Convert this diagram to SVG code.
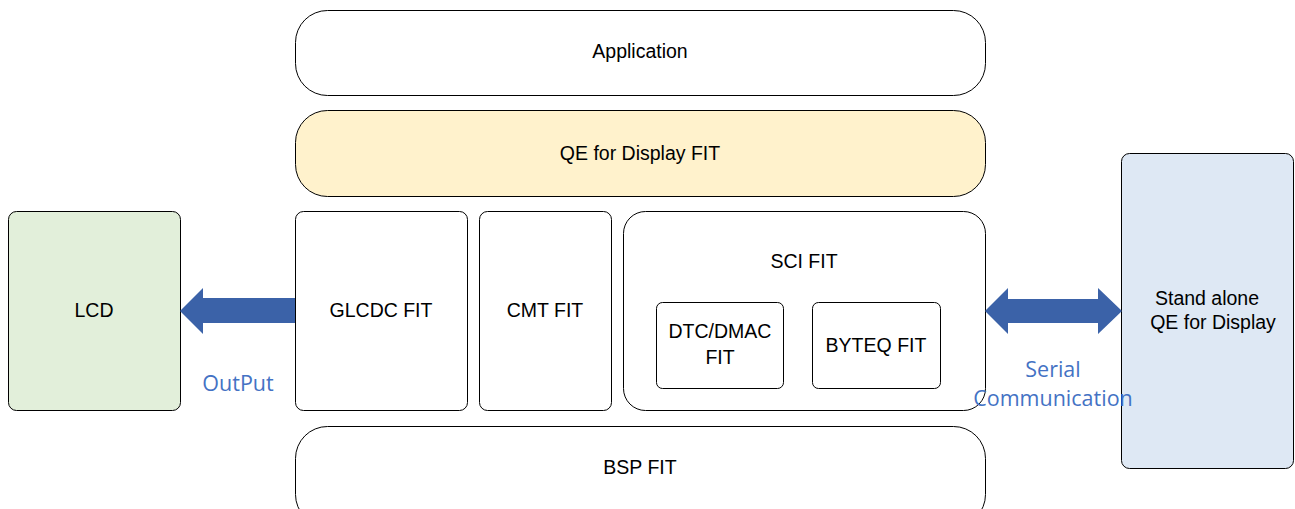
<svg xmlns="http://www.w3.org/2000/svg" width="1295" height="509" viewBox="0 0 1295 509">
<style>
.box{stroke:#000;stroke-width:1;fill:#fff}
.t{font-family:"Liberation Sans",Arial,sans-serif;font-size:19.5px;fill:#000;text-anchor:middle;dominant-baseline:central}
.lbl{font-family:"Open Sans","Noto Sans",sans-serif;font-size:21.5px;fill:#4472c4;text-anchor:middle;dominant-baseline:central}
.arr{fill:#3b62a8;stroke:none}
</style>
<rect width="1295" height="509" fill="#fff"/>
<g id="application"><rect class="box" x="295.5" y="10.5" width="690" height="85" rx="32"/><text class="t" x="640" y="51">Application</text></g>
<g id="qe-fit"><rect class="box" x="295.5" y="110.5" width="690" height="86" rx="32" style="fill:#fff2cc"/><text class="t" x="640" y="153">QE for Display FIT</text></g>
<g id="glcdc"><rect class="box" x="295.5" y="211.5" width="172" height="199" rx="8"/><text class="t" x="381" y="310">GLCDC FIT</text></g>
<g id="cmt"><rect class="box" x="479.5" y="211.5" width="132" height="199" rx="8"/><text class="t" x="545" y="310">CMT FIT</text></g>
<g id="sci"><rect class="box" x="623.5" y="211.5" width="362" height="199" rx="22"/><text class="t" x="804" y="261">SCI FIT</text></g>
<g id="dtc"><rect class="box" x="656.5" y="302.5" width="127" height="86" rx="6"/><text class="t" x="720" y="331">DTC/DMAC</text><text class="t" x="720" y="357">FIT</text></g>
<g id="byteq"><rect class="box" x="812.5" y="302.5" width="128" height="86" rx="6"/><text class="t" x="876" y="345">BYTEQ FIT</text></g>
<g id="bsp"><rect class="box" x="295.5" y="426.5" width="690" height="100" rx="32"/><text class="t" x="640" y="467">BSP FIT</text></g>
<g id="lcd"><rect class="box" x="8.5" y="211.5" width="172" height="199" rx="8" style="fill:#e2efda"/><text class="t" x="94" y="310">LCD</text></g>
<g id="standalone"><rect class="box" x="1121.5" y="153.5" width="172" height="315" rx="8" style="fill:#dee8f4"/><text class="t" x="1207" y="298">Stand alone</text><text class="t" x="1213" y="322">QE for Display</text></g>
<g id="connectors">
<polygon class="arr" points="295,298 203,298 203,288 180,311 203,334 203,323 295,323"/>
<polygon class="arr" points="985,311 1008,288 1008,299 1098,299 1098,288 1122,311 1098,334 1098,323 1008,323 1008,334"/>
<text class="lbl" x="238" y="382">OutPut</text>
<text class="lbl" x="1053" y="368">Serial</text>
<text class="lbl" x="1053" y="397">Communication</text>
</g>
</svg>
